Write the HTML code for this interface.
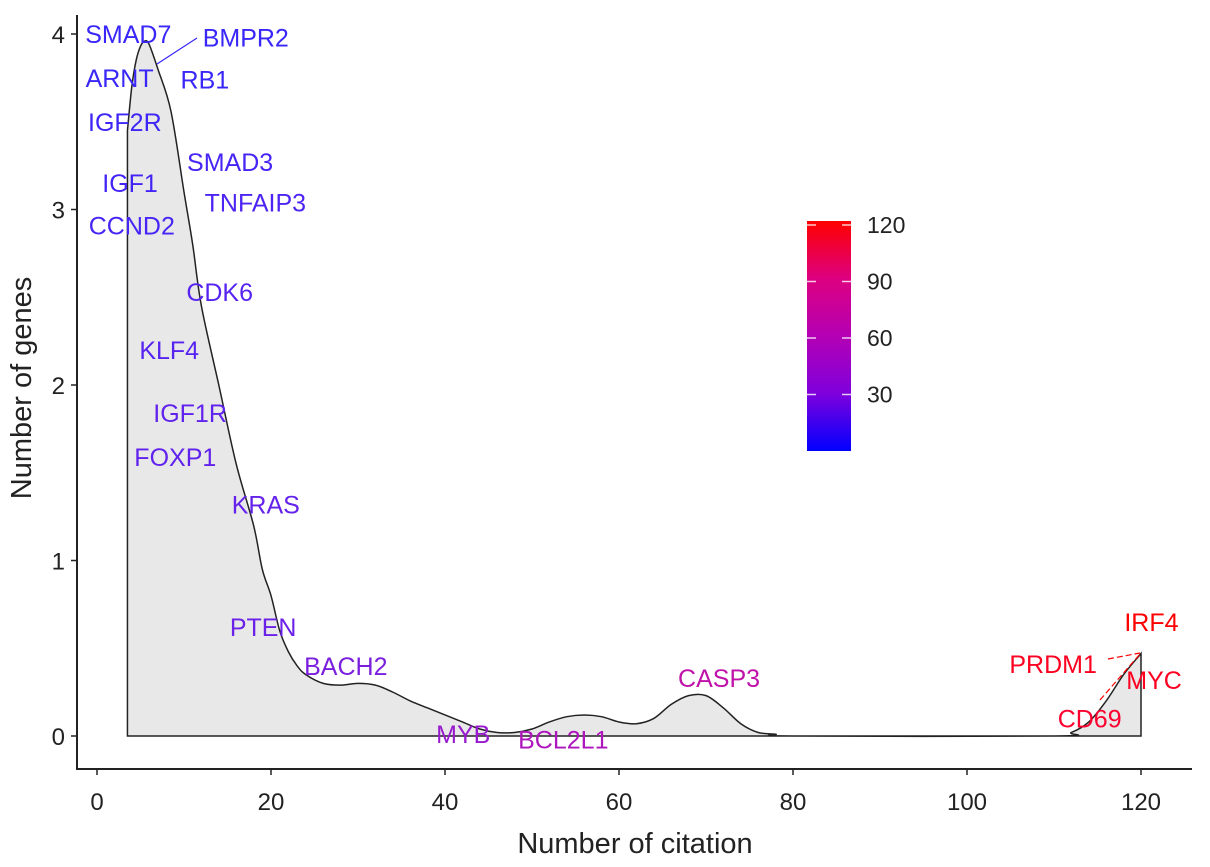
<!DOCTYPE html>
<html><head><meta charset="utf-8"><style>
body{margin:0;background:#fff}
text{font-family:"Liberation Sans",sans-serif}
</style></head><body>
<svg id="c" width="1210" height="862" xmlns="http://www.w3.org/2000/svg">
<defs><linearGradient id="g" x1="0" y1="1" x2="0" y2="0">
<stop offset="0" stop-color="#0000ff"/><stop offset="0.25" stop-color="#7f00dc"/><stop offset="0.5" stop-color="#b400b4"/><stop offset="0.75" stop-color="#dd0080"/><stop offset="1" stop-color="#ff0000"/></linearGradient></defs>
</svg>
<script>
const densX=[3.5,4,4.5,5,5.5,6,7,8.5,10,11,12,14,16,18,19,20,21,22,23,24,26,28,30,32,34,36,38,40,42,44,46,48,50,52,54,56,58,60,62,64,66,68,70,72,74,76,78,80,110,112,114,116,118,120];
const densY=[3.45,3.7,3.85,3.93,3.96,3.94,3.8,3.56,3.1,2.8,2.45,2.0,1.55,1.2,0.95,0.8,0.6,0.48,0.4,0.35,0.3,0.29,0.3,0.29,0.25,0.2,0.16,0.12,0.08,0.04,0.02,0.02,0.04,0.08,0.11,0.12,0.11,0.08,0.07,0.1,0.18,0.23,0.23,0.16,0.07,0.02,0.01,0,0,0.02,0.08,0.2,0.35,0.47];
const genes=["SMAD7","BMPR2","ARNT","RB1","IGF2R","SMAD3","IGF1","TNFAIP3","CCND2","CDK6","KLF4","IGF1R","FOXP1","KRAS","PTEN","BACH2","MYB","BCL2L1","CASP3","IRF4","PRDM1","MYC","CD69"];
const citations=[6,6,6,6,7,9,8,11,9,14,14,17,17,19,21,28,42,55,68,120,118,118,116];
const labelX=[3.6,17.1,2.6,12.4,3.2,15.3,3.8,18.2,4.0,14.1,8.3,10.7,9.0,19.4,19.1,28.6,42.1,53.6,71.5,121.2,109.9,121.5,114.1];
const labelY=[4.0,3.98,3.75,3.74,3.5,3.27,3.15,3.04,2.91,2.53,2.2,1.84,1.59,1.32,0.62,0.4,0.01,-0.02,0.33,0.65,0.41,0.32,0.1];
const xTicks=[0,20,40,60,80,100,120];
const yTicks=[0,1,2,3,4];
const cbTicks=[30,60,90,120];
const X=v=>97+v*8.7, Y=v=>736-v*175.5;
const svg=document.getElementById('c');const NS="http://www.w3.org/2000/svg";
function el(t,a,p){const e=document.createElementNS(NS,t);for(const k in a)e.setAttribute(k,a[k]);(p||svg).appendChild(e);return e;}
function col(v){const t=Math.max(0,Math.min(1,v/120));const r=Math.round(255*Math.sqrt(t)),b=Math.round(255*Math.sqrt(1-t));return `rgb(${r},${Math.round(40*(1-t))},${b})`;}
const P=densX.map((x,i)=>[X(x),Y(densY[i])]);
let d=`M${X(densX[0])},${Y(0)} L${P[0][0]},${P[0][1]}`;
for(let i=0;i<P.length-1;i++){const p0=P[Math.max(0,i-1)],p1=P[i],p2=P[i+1],p3=P[Math.min(P.length-1,i+2)];
d+=` C${p1[0]+(p2[0]-p0[0])/6},${p1[1]+(p2[1]-p0[1])/6} ${p2[0]-(p3[0]-p1[0])/6},${p2[1]-(p3[1]-p1[1])/6} ${p2[0]},${p2[1]}`;}
d+=` L${X(120)},${Y(0)} Z`;
const area=el('path',{d,fill:'#e8e8e8',stroke:'#222','stroke-width':1.5});


const ax=el('path',{d:'M77,15 V769 H1192',fill:'none',stroke:'#222','stroke-width':2});


xTicks.forEach(v=>{el('line',{x1:X(v),x2:X(v),y1:769,y2:775,stroke:'#222','stroke-width':1.5});
const t=el('text',{x:X(v),y:810,'text-anchor':'middle','font-size':24,fill:'#222'});t.textContent=v;

});
yTicks.forEach(v=>{el('line',{x1:71,x2:77,y1:Y(v),y2:Y(v),stroke:'#222','stroke-width':1.5});
const t=el('text',{x:65,y:Y(v)+9,'text-anchor':'end','font-size':24,fill:'#222'});t.textContent=v;

});
const xt=el('text',{x:635,y:853,'text-anchor':'middle','font-size':29,fill:'#222'});xt.textContent='Number of citation';


const yt=el('text',{x:0,y:0,transform:'translate(31,388) rotate(-90)','text-anchor':'middle','font-size':29,fill:'#222'});yt.textContent='Number of genes';


el('line',{x1:157,y1:64,x2:197,y2:38,stroke:col(6),'stroke-width':1.2});
el('line',{x1:1108,y1:659,x2:1140,y2:653,stroke:'#ff0000','stroke-width':1.2,'stroke-dasharray':'6,3'});
el('line',{x1:1100,y1:700,x2:1140,y2:654,stroke:'#ff0000','stroke-width':1.2,'stroke-dasharray':'6,3'});
genes.forEach((g,i)=>{const t=el('text',{x:X(labelX[i]),y:Y(labelY[i])+9,'text-anchor':'middle','font-size':25,fill:col(citations[i])});t.textContent=g;

});
const cb=el('rect',{x:807,y:221,width:44,height:230,fill:'url(#g)'});


const CY=v=>451-v*(451-225)/120;
cbTicks.forEach(v=>{el('line',{x1:807,x2:816,y1:CY(v),y2:CY(v),stroke:'#fff','stroke-width':1.5,opacity:0.8});
el('line',{x1:842,x2:851,y1:CY(v),y2:CY(v),stroke:'#fff','stroke-width':1.5,opacity:0.8});
const t=el('text',{x:867,y:CY(v)+8,'font-size':23,fill:'#222'});t.textContent=v;

});
</script>
</body></html>
